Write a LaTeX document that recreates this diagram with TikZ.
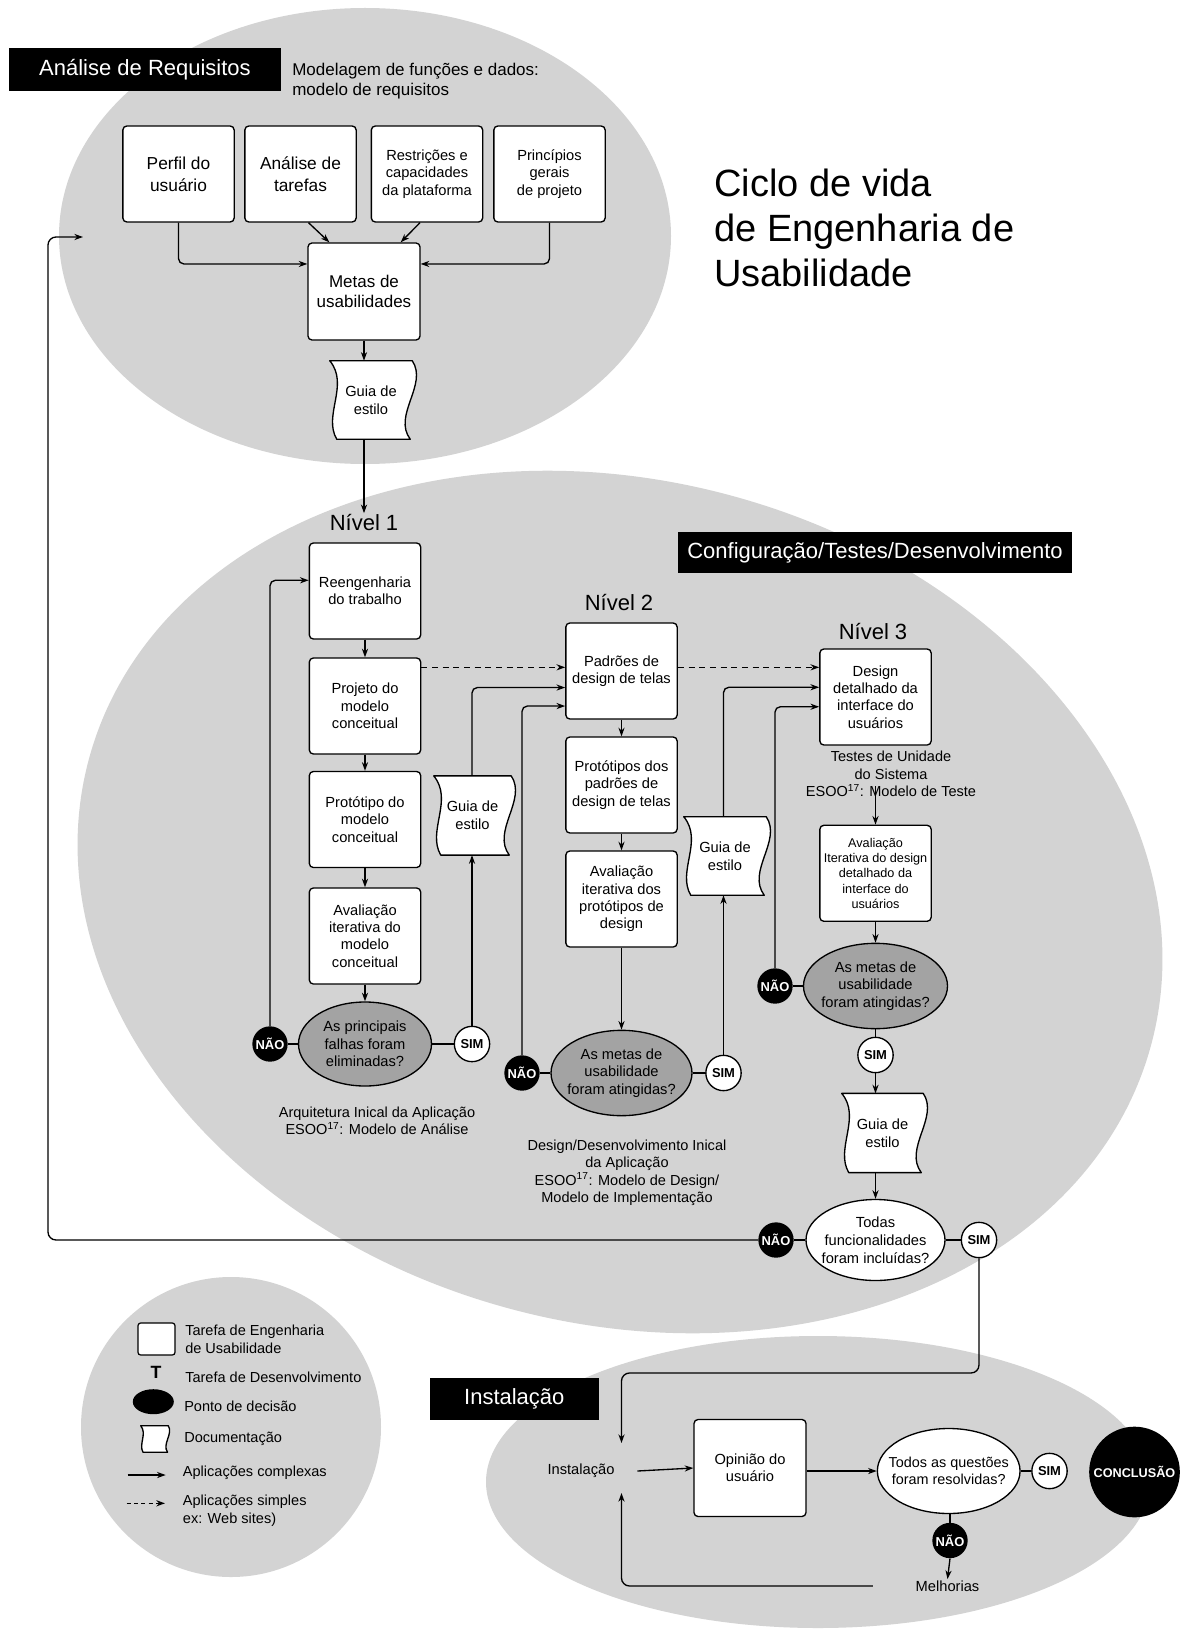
\documentclass[tikz,border=0pt]{standalone}
\usepackage{fontspec}
\setmainfont{Liberation Sans}
\usetikzlibrary{arrows.meta,calc,shapes.geometric}
\definecolor{bggray}{RGB}{211,211,211}
\definecolor{decgray}{RGB}{163,163,163}
\pgfdeclarelayer{back}
\pgfdeclarelayer{docs}
\pgfsetlayers{back,docs,main}
\newcommand\fs[2]{\fontsize{#1}{#2}\selectfont}
% wavy-sided document outline drawn behind a named node
\newcommand\docshape[2][1]{%
  \begin{pgfonlayer}{docs}
  \filldraw[docline] (#2.north west)
    .. controls +({20*#1},{24*#1}) and +({-14*#1},{-24*#1}) .. ([xshift={5.25pt*#1}]#2.south west)
    -- ([xshift={-1.5pt*#1}]#2.south east)
    .. controls +({-18*#1},{-24*#1}) and +({16*#1},{24*#1}) .. (#2.north east) -- cycle;
  \end{pgfonlayer}}
\begin{document}
\begin{tikzpicture}[x=0.75pt,y=-0.75pt,
  task/.style={draw, fill=white, rounded corners=3pt, line width=1pt, align=center,
    inner sep=1pt, minimum width=83.5pt, minimum height=72pt, font=\fs{11}{13}},
  arr/.style={-{Stealth[length=6.5pt,width=4.6pt]}, line width=1pt},
  dasharr/.style={arr, dash pattern=on 4.5pt off 3.5pt},
  link/.style={line width=1pt},
  dec/.style={ellipse, draw, line width=1pt, fill=decgray, inner sep=0pt},
  decw/.style={ellipse, draw, line width=1pt, fill=white, inner sep=0pt},
  txt/.style={align=center, inner sep=0pt, font=\fs{11}{13}},
  yesbtn/.style={circle, draw, line width=1pt, fill=white, inner sep=0pt,
    minimum size=26.5pt, font=\bfseries\fs{9.7}{11}},
  nobtn/.style={circle, fill=black, text=white, inner sep=0pt,
    minimum size=26.5pt, font=\bfseries\fs{9.7}{11}},
  doc/.style={inner sep=0pt, align=center, font=\fs{11}{13.5}},
  docline/.style={draw, fill=white, line width=1pt, line join=round},
  lab/.style={fill=black, text=white, inner sep=0pt, font=\fs{16.5}{20}},
  lvl/.style={inner sep=1pt, font=\fs{16.5}{20}},
  captxt/.style={align=center, inner sep=1pt, font=\fs{10.9}{13}},
  legtxt/.style={anchor=west, align=left, inner sep=0pt, font=\fs{10.9}{13.2}}
]
\useasboundingbox (0,0) rectangle (1184,1630);

% ---------- background regions ----------
\begin{pgfonlayer}{back}
  \fill[white] (0,0) rectangle (1184,1630);
  \fill[bggray] (365,236) ellipse [x radius=229.5pt, y radius=171pt];
  \fill[bggray, rotate around={-15:(620,902)}] (620,902) ellipse [x radius=412.5pt, y radius=316pt];
  \fill[bggray] (231,1427) circle [radius=112.5pt];
  \fill[bggray] (818,1482) ellipse [x radius=249pt, y radius=109.5pt];
\end{pgfonlayer}

% ---------- requirements analysis ----------
\node[lab, minimum width=204pt, minimum height=32.25pt] (lreq) at (145,69.5) {Análise de Requisitos};
\node[anchor=west, align=left, inner sep=0pt, font=\fs{12.75}{15}] (mod) at (292,81)
  {Modelagem de funções e dados:\\modelo de requisitos};
\node[anchor=west, align=left, inner sep=0pt, font=\fs{28.5}{33.75}] (title) at (714,228)
  {Ciclo de vida\\de Engenharia de\\Usabilidade};

\node[task, font=\fs{13}{16.5}] (p1) at (178.5,174) {Perfil do\\usuário};
\node[task, font=\fs{13}{16.5}] (p2) at (300.5,174) {Análise de\\tarefas};
\node[task] (p3) at (427,174) {Restrições e\\capacidades\\da plataforma};
\node[task] (p4) at (549.5,174) {Princípios\\gerais\\de projeto};
\node[task, font=\fs{12.75}{15}, minimum width=84pt, minimum height=72.75pt] (m) at (364,291.5) {Metas de\\usabilidades};
\node[doc, minimum width=61.5pt, minimum height=58.5pt] (g0) at (371,400) {Guia de\\estilo};
\docshape{g0}

\draw[arr, rounded corners=4pt] (p1.south) |- ($(m.north west)!0.22!(m.south west)$);
\draw[arr, rounded corners=4pt] (p4.south) |- ($(m.north east)!0.22!(m.south east)$);
\draw[arr] ($(p2.south)+(8,0)$) -- ($(m.north west)+(22,0)$);
\draw[arr] ($(p3.south)+(-7,0)$) -- ($(m.north east)+(-20,0)$);
\draw[arr] (m.south) -- (m.south |- g0.north);

% ---------- configuration / tests / development ----------
\node[lab, minimum width=295.5pt, minimum height=31pt] (lconf) at (875,552.5) {Configuração/Testes/Desenvolvimento};

% level 1
\node[lvl] (n1) at (364,523) {Nível 1};
\draw[arr] (g0.south -| n1.north) -- (n1.north);
\node[task] (r1) at (365,591) {Reengenharia\\do trabalho};
\node[task] (pr1) at (365,706) {Projeto do\\modelo\\conceitual};
\node[task] (pt1) at (365,819.5) {Protótipo do\\modelo\\conceitual};
\node[task] (a1) at (365,936) {Avaliação\\iterativa do\\modelo\\conceitual};
\node[dec, minimum width=99.75pt, minimum height=63pt,
  label={[txt]center:As principais\\falhas foram\\eliminadas?}] (d1) at (365,1044) {};
\node[nobtn] (no1) at (270,1044) {NÃO};
\node[yesbtn] (si1) at (472,1044) {SIM};
\node[doc, minimum width=57.75pt, minimum height=59pt] (g1) at (472.5,815.5) {Guia de\\estilo};
\docshape{g1}
\node[captxt] (cap1) at (377,1121) {Arquitetura Inical da Aplicação\\ESOO\textsuperscript{17}: Modelo de Análise};

\draw[arr] (r1.south) -- (pr1.north);
\draw[arr] (pr1.south) -- (pt1.north);
\draw[arr] (pt1.south) -- (a1.north);
\draw[arr] (a1.south) -- (d1.north);
\draw[link] (d1.west) -- (no1.east);
\draw[link] (d1.east) -- (si1.west);
\draw[arr, rounded corners=4pt] (no1.north) |- ($(r1.north west)!0.39!(r1.south west)$);
\draw[arr] (si1.north) -- (si1.north |- g1.south);

% level 2
\node[lvl] (n2) at (619,603) {Nível 2};
\node[task] (pa2) at (621.5,671) {Padrões de\\design de telas};
\node[task] (pt2) at (621.5,785) {Protótipos dos\\padrões de\\design de telas};
\node[task] (a2) at (621.5,899) {Avaliação\\iterativa dos\\protótipos de\\design};
\node[dec, minimum width=105.75pt, minimum height=64pt,
  label={[txt]center:As metas de\\usabilidade\\foram atingidas?}] (d2) at (621.5,1073) {};
\node[nobtn] (no2) at (522,1073) {NÃO};
\node[yesbtn] (si2) at (723.5,1073) {SIM};
\node[doc, minimum width=61.5pt, minimum height=58.5pt] (g2) at (725,856) {Guia de\\estilo};
\docshape{g2}
\node[captxt] (cap2) at (627,1172.7) {Design/Desenvolvimento Inical\\da Aplicação\\ESOO\textsuperscript{17}: Modelo de Design/\\Modelo de Implementação};

\draw[arr, rounded corners=4pt] (g1.north -| si1.north) |- ($(pa2.north west)!0.67!(pa2.south west)$);
\coordinate (dA) at ($(pr1.north east)+(0,10)$);
\draw[dasharr] (dA) -- (dA -| pa2.west);
\draw[arr] (pa2.south) -- (pt2.north);
\draw[arr] (pt2.south) -- (a2.north);
\draw[arr] (a2.south) -- (d2.north);
\draw[link] (d2.west) -- (no2.east);
\draw[link] (d2.east) -- (si2.west);
\draw[arr, rounded corners=4pt] (no2.north) |- ($(pa2.north west)!0.86!(pa2.south west)$);
\draw[arr] (si2.north) -- (si2.north |- g2.south);

% level 3
\node[lvl] (n3) at (873,632) {Nível 3};
\node[task] (de3) at (875.5,697) {Design\\detalhado da\\interface do\\usuários};
\node[captxt] (cap3) at (891,774) {Testes de Unidade\\do Sistema\\ESOO\textsuperscript{17}: Modelo de Teste};
\node[task, font=\fs{9.5}{11.5}] (av3) at (875.5,873.3) {Avaliação\\Iterativa do design\\detalhado da\\interface do\\usuários};
\node[dec, minimum width=108pt, minimum height=64pt,
  label={[txt]center:As metas de\\usabilidade\\foram atingidas?}] (d3) at (875.5,986) {};
\node[nobtn] (no3) at (775,986) {NÃO};
\node[yesbtn] (si3) at (875.5,1055) {SIM};
\node[doc, minimum width=60.75pt, minimum height=59pt] (g3) at (882.5,1133) {Guia de\\estilo};
\docshape{g3}
\node[decw, minimum width=104.25pt, minimum height=60.75pt,
  label={[txt, font=\fs{11}{13.5}]center:Todas\\funcionalidades\\foram incluídas?}] (td) at (875.5,1240) {};
\node[nobtn] (no4) at (776,1240) {NÃO};
\node[yesbtn] (si4) at (979,1240) {SIM};

\coordinate (dB) at (pa2.east |- dA);
\draw[dasharr] (dB) -- (dB -| de3.west);
\draw[arr, rounded corners=4pt] (g2.north -| si2.north) |- ($(de3.north west)!0.40!(de3.south west)$);
\draw[arr, rounded corners=4pt] (no3.north) |- ($(de3.north west)!0.60!(de3.south west)$);
\coordinate (c3) at (875.5,786);
\draw[arr] (c3) -- (av3.north);
\draw[arr] (av3.south) -- (d3.north);
\draw[link] (d3.west) -- (no3.east);
\draw[link] (d3.south) -- (si3.north);
\draw[arr] (si3.south) -- (si3.south |- g3.north);
\draw[arr] (g3.south -| td.north) -- (td.north);
\draw[link] (td.west) -- (no4.east);
\draw[link] (td.east) -- (si4.west);
\coordinate (back) at (83,237);
\draw[arr, rounded corners=6pt] (no4.west) -| (48,237) -- (back);

% ---------- installation ----------
\node[lab, minimum width=126.4pt, minimum height=31.7pt] (linst) at (514.3,1399) {Instalação};
\node[inner sep=0pt, font=\fs{11}{13}] (inst) at (581,1471) {Instalação};
\node[task, minimum width=84pt, minimum height=72.75pt, font=\fs{11}{12.5}] (op) at (750,1468) {Opinião do\\usuário};
\node[decw, minimum width=107pt, minimum height=63.75pt,
  label={[txt, font=\fs{10.8}{13}]center:Todos as questões\\foram resolvidas?}] (td2) at (948.7,1471) {};
\node[yesbtn] (si5) at (1049.5,1471) {SIM};
\node[circle, fill=black, text=white, inner sep=0pt, minimum size=68pt,
  font=\bfseries\fs{9.5}{11}] (conc) at (1134.5,1472) {CONCLUSÃO};
\node[nobtn] (no5) at (950,1540.5) {NÃO};
\node[inner sep=1pt, font=\fs{11}{13}] (mel) at (947.5,1586) {Melhorias};

\coordinate (instin) at (621.5,1443);
\coordinate (instup) at (621.5,1493);
\draw[arr, rounded corners=6pt] (si4.south) |- ($(instin)+(0,-70)$) -- (instin);
\draw[arr] ([xshift=17pt]inst.east) -- (op.west);
\draw[arr] (op.east |- td2.west) -- (td2.west);
\draw[link] (td2.east) -- (si5.west);
\draw[link] (td2.south -| no5.north) -- (no5.north);
\draw[arr] (no5.south) -- (mel.north);
\draw[arr, rounded corners=6pt] ([xshift=-31pt]mel.west) -| (instup);

% ---------- legend ----------
\node[draw, fill=white, rounded corners=2pt, line width=0.9pt, inner sep=0pt,
  minimum width=27.75pt, minimum height=24pt] (lg1) at (156.5,1339) {};
\node[legtxt] (lt1) at (185,1339.5) {Tarefa de Engenharia\\de Usabilidade};
\node[inner sep=0pt, font=\bfseries\fs{13.3}{15}] (lg2) at (156,1372) {T};
\node[legtxt] (lt2) at (185,1377.3) {Tarefa de Desenvolvimento};
\node[ellipse, fill=black, inner sep=0pt, minimum width=30.75pt, minimum height=18.75pt] (lg3) at (153.3,1401.7) {};
\node[legtxt] (lt3) at (184,1406.7) {Ponto de decisão};
\node[doc, minimum width=20.25pt, minimum height=19.5pt] (lg4) at (154.5,1439) {};
\docshape[0.33]{lg4}
\node[legtxt] (lt4) at (184,1439.3) {Documentação};
\coordinate (la1) at (127.7,1475);
\coordinate (la2) at (165.7,1475);
\draw[arr] (la1) -- (la2);
\node[legtxt] (lt5) at (182.7,1472.7) {Aplicações complexas};
\coordinate (lb1) at (126.7,1503.3);
\coordinate (lb2) at (165,1503.3);
\draw[dasharr, dash pattern=on 3pt off 2.5pt] (lb1) -- (lb2);
\node[legtxt] (lt6) at (182.7,1510.5) {Aplicações simples\\ex: Web sites)};
\end{tikzpicture}
\end{document}
